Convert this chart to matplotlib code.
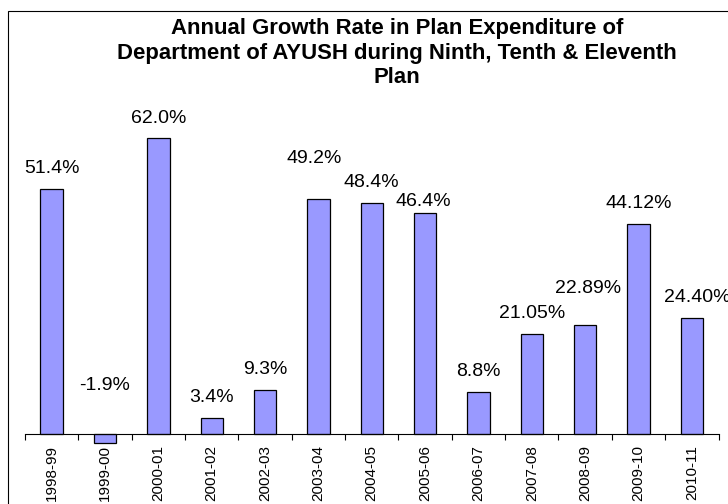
import numpy as np
import matplotlib
matplotlib.use('Agg')
import matplotlib.pyplot as plt
from matplotlib.patches import Rectangle

plt.rcParams['font.family'] = ['Liberation Sans', 'DejaVu Sans']

#%% Datos
years = ['1998-99', '1999-00', '2000-01', '2001-02', '2002-03', '2003-04', '2004-05',
         '2005-06', '2006-07', '2007-08', '2008-09', '2009-10', '2010-11']
growth = [51.4, -1.9, 62.0, 3.4, 9.3, 49.2, 48.4, 46.4, 8.8, 21.05, 22.89, 44.12, 24.40]
labels = ['51.4%', '-1.9%', '62.0%', '3.4%', '9.3%', '49.2%', '48.4%', '46.4%', '8.8%',
          '21.05%', '22.89%', '44.12%', '24.40%']

title = ('Annual Growth Rate in Plan Expenditure of\n'
         'Department of AYUSH during Ninth, Tenth & Eleventh\n'
         'Plan')

# desplazamiento de etiquetas (px) como en excel
dx_lab = {5: -4, 7: -2, 10: 3, 12: 5}
dy_lab = {1: 44, 5: 36, 7: 6.5, 10: 32}

#%% Grafico
fig = plt.figure(figsize=(7.28, 5.04), dpi=100)
ax = fig.add_axes([25 / 728, 0.1105, 693.5 / 728, 0.691])

x = np.arange(len(years))
ax.bar(x, growth, width=0.42, color='#9999FF', edgecolor='black', linewidth=0.9, zorder=2)

px = 72 / 100  # puntos por pixel
for i, (xi, v, lab) in enumerate(zip(x, growth, labels)):
    base = v if v >= 0 else 0
    ox = dx_lab.get(i, 0) * px
    oy = dy_lab.get(i, 15.7) * px
    ax.annotate(lab, (xi, base), xytext=(ox, oy), textcoords='offset points',
                ha='center', va='baseline', fontsize=14, annotation_clip=False)

ax.set_xlim(-0.5, 12.5)
ax.set_ylim(-3, 70)

for s in ['left', 'right', 'top']:
    ax.spines[s].set_visible(False)
ax.spines['bottom'].set_position(('data', 0))
ax.spines['bottom'].set_linewidth(0.8)
ax.spines['bottom'].set_zorder(3)

ax.set_yticks([])
ax.set_xticks(x)
ax.set_xticklabels(years, rotation=90, fontsize=11, va='top', ha='center')
ax.set_xticks(np.arange(-0.5, 13, 1), minor=True)
ax.tick_params(axis='x', which='major', length=0, pad=8)
ax.tick_params(axis='x', which='minor', length=4, width=0.8, direction='out')

fig.text(397 / 728, 1 - 18 / 504, title, ha='center', va='top', fontsize=15.9,
         fontweight='bold', linespacing=1.22)

# marco del grafico
fig.add_artist(Rectangle((8.3 / 728, -0.1), 1.2, (504 - 10.7) / 504 + 0.1,
                         transform=fig.transFigure, fill=False, edgecolor='black',
                         linewidth=0.8))

fig.savefig('out.png', dpi=100)
